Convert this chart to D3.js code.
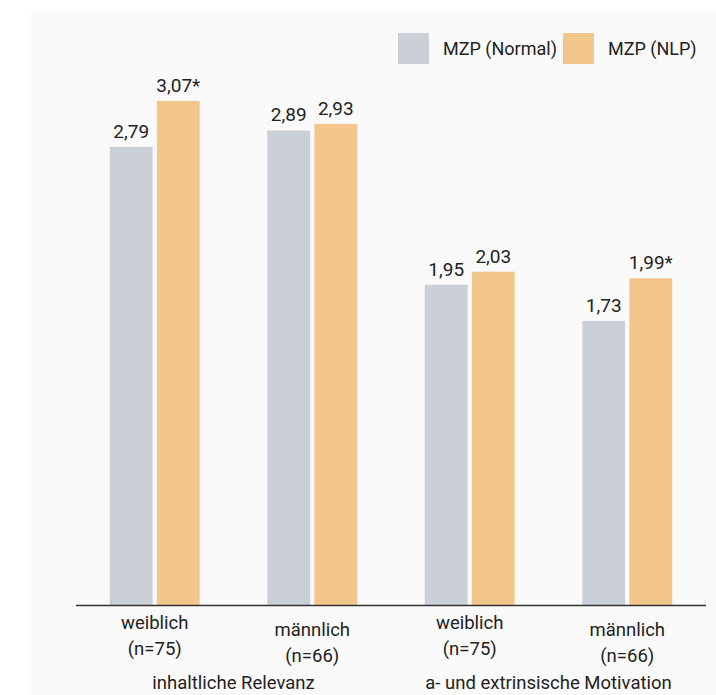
<!DOCTYPE html>
<html><head><meta charset="utf-8">
<script src="https://cdn.jsdelivr.net/npm/d3@7"></script>
<style>html,body{margin:0;padding:0;background:#fff;}svg{display:block;font-family:Roboto,"Liberation Sans",sans-serif;}</style>
</head><body>
<script>
const groups = ["weiblich|(n=75)", "männlich|(n=66)", "weiblich|(n=75)", "männlich|(n=66)"];
const groupIds = ["g1", "g2", "g3", "g4"];
const series = ["MZP (Normal)", "MZP (NLP)"];
const normalValues = [2.79, 2.89, 1.95, 1.73];
const nlpValues = [3.07, 2.93, 2.03, 1.99];
const normalLabels = ["2,79", "2,89", "1,95", "1,73"];
const nlpLabels = ["3,07*", "2,93", "2,03", "1,99*"];
const sectionTitles = ["inhaltliche Relevanz", "a- und extrinsische Motivation"];
const colors = ["#cbd0d8", "#f3c78c"];

const W = 716, H = 695;
const svg = d3.select("body").append("svg").attr("width", W).attr("height", H);
svg.append("rect").attr("x", 31).attr("y", 10).attr("width", W - 31).attr("height", H - 10).attr("fill", "#fafafa");

const x0 = d3.scaleBand().domain(groupIds).range([76, 706]).paddingInner(0).paddingOuter(0);
const x1 = d3.scaleBand().domain(series).range([-45, 45]).paddingInner(0.09);
const y = d3.scaleLinear().domain([0, 3.5]).range([605, 30.3]);

const data = [];
groupIds.forEach((g, i) => {
  data.push({g, s: series[0], v: normalValues[i], lab: normalLabels[i], c: colors[0]});
  data.push({g, s: series[1], v: nlpValues[i], lab: nlpLabels[i], c: colors[1]});
});
const cx = g => x0(g) + x0.bandwidth() / 2;

svg.selectAll("rect.bar").data(data).enter().append("rect").attr("class", "bar")
  .attr("x", d => cx(d.g) + x1(d.s)).attr("width", x1.bandwidth())
  .attr("y", d => y(d.v)).attr("height", d => y(0) - y(d.v)).attr("fill", d => d.c);

svg.selectAll("text.val").data(data).enter().append("text").attr("class", "val")
  .attr("x", d => cx(d.g) + x1(d.s) + x1.bandwidth() / 2)
  .attr("y", d => y(d.v) - 9).attr("text-anchor", "middle")
  .attr("font-size", 19).attr("fill", "#222").text(d => d.lab);

svg.append("line").attr("x1", 76).attr("x2", 706).attr("y1", 605.5).attr("y2", 605.5)
  .attr("stroke", "#333").attr("stroke-width", 1.5);

groupIds.forEach((g, i) => {
  const [a, b] = groups[i].split("|");
  const off = (i % 2 === 1) ? 7 : 0;
  svg.append("text").attr("x", cx(g)).attr("y", 629 + off).attr("text-anchor", "middle")
    .attr("font-size", 18.5).attr("fill", "#222").text(a);
  svg.append("text").attr("x", cx(g)).attr("y", 655 + off).attr("text-anchor", "middle")
    .attr("font-size", 18.5).attr("fill", "#222").text(b);
});
sectionTitles.forEach((t, i) => {
  const mid = (cx(groupIds[i * 2]) + cx(groupIds[i * 2 + 1])) / 2;
  svg.append("text").attr("x", mid).attr("y", 689).attr("text-anchor", "middle")
    .attr("font-size", 18.5).attr("fill", "#222").text(t);
});

const legX = [398, 563], legT = [443, 608];
series.forEach((s, i) => {
  svg.append("rect").attr("x", legX[i]).attr("y", 33).attr("width", 31).attr("height", 31).attr("fill", colors[i]);
  svg.append("text").attr("x", legT[i]).attr("y", 55).attr("font-size", 18).attr("fill", "#222").text(s);
});
</script>
</body></html>
